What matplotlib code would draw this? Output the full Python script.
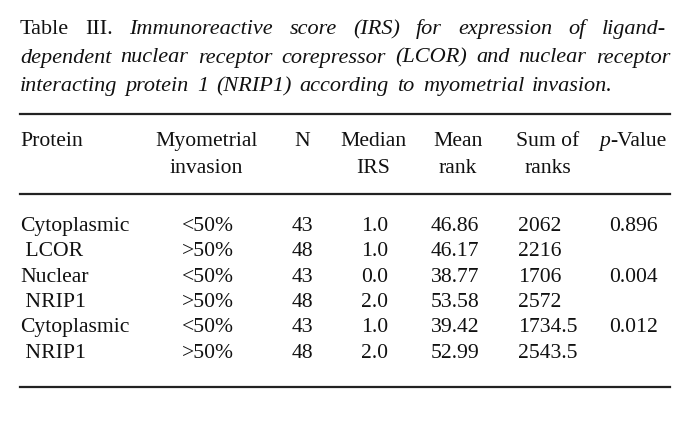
import matplotlib.pyplot as plt
from matplotlib.lines import Line2D

plt.rcParams["font.family"] = ["Liberation Serif", "DejaVu Serif"]

W, H = 675, 428

# caption, word by word; text after "|" is italic
caption = [
    "Table III. |Immunoreactive score (IRS) for expression of ligand-",
    "|dependent nuclear receptor corepressor (LCOR) and nuclear receptor",
    "|interacting protein 1 (NRIP1) according to myometrial invasion.",
]
caption_right = [666, 670, 613]

headers = [["Protein", ""], ["Myometrial", "invasion"], ["N", ""],
           ["Median", "IRS"], ["Mean", "rank"], ["Sum of", "ranks"], ["p-Value", ""]]

protein = ["Cytoplasmic", " LCOR", "Nuclear", " NRIP1", "Cytoplasmic", " NRIP1"]
invasion = ["<50%", ">50%", "<50%", ">50%", "<50%", ">50%"]
n = [43, 48, 43, 48, 43, 48]
median_irs = ["1.0", "1.0", "0.0", "2.0", "1.0", "2.0"]
mean_rank = ["46.86", "46.17", "38.77", "53.58", "39.42", "52.99"]
sum_ranks = ["2062", "2216", "1706", "2572", "1734.5", "2543.5"]
p_value = ["0.896", "", "0.004", "", "0.012", ""]

fs = 15.6
fs_cap = 16
fig = plt.figure(figsize=(W / 100, H / 100), dpi=100)
renderer = fig.canvas.get_renderer()


def fx(x):
    return x / W


def fy(y):
    return 1 - y / H


def put(x, y, s, ha="left", style="normal", size=fs):
    return fig.text(fx(x), fy(y), s, ha=ha, va="baseline", fontsize=size,
                    fontstyle=style, color="#111111")


def width(s, style="normal", size=fs):
    t = fig.text(0, 0, s, fontsize=size, fontstyle=style)
    w = t.get_window_extent(renderer).width
    t.remove()
    return w


# caption with justified lines
x0 = 20
for i, line in enumerate(caption):
    roman, italic = line.split("|")
    words = [(w, "normal") for w in roman.split()] + [(w, "italic") for w in italic.split()]
    widths = [width(w, st, fs_cap) for w, st in words]
    gap = (caption_right[i] - x0 - sum(widths)) / (len(words) - 1)
    x = x0
    yb = 34 + i * 28.5
    for (w, st), wd in zip(words, widths):
        put(x, yb, w, style=st, size=fs_cap)
        x += wd + gap

# rules
for y in (114, 194, 387):
    fig.add_artist(Line2D([fx(20), fx(670)], [fy(y), fy(y)], lw=1.6, color="#222222"))

# header
hx = [20, 206, 302, 373, 458, 548, 633]
hha = ["left", "center", "center", "center", "center", "center", "center"]
for x, ha, (a, b) in zip(hx, hha, headers):
    if a == "p-Value":
        wp = width("p", "italic")
        wv = width("-Value")
        left = x - (wp + wv) / 2
        put(left, 146, "p", style="italic")
        put(left + wp, 146, "-Value")
        continue
    put(x, 146, a, ha=ha)
    if b:
        put(x, 173, b, ha=ha)

# body rows
for i in range(len(protein)):
    yb = 231 + i * 25.3
    put(20, yb, protein[i])
    put(182, yb, invasion[i])
    put(302.5, yb, str(n[i]), ha="center")
    put(374.5, yb, median_irs[i], ha="center")
    put(431, yb, mean_rank[i])
    put(518, yb, sum_ranks[i])
    put(609, yb, p_value[i])

fig.savefig("out.png", dpi=100)
